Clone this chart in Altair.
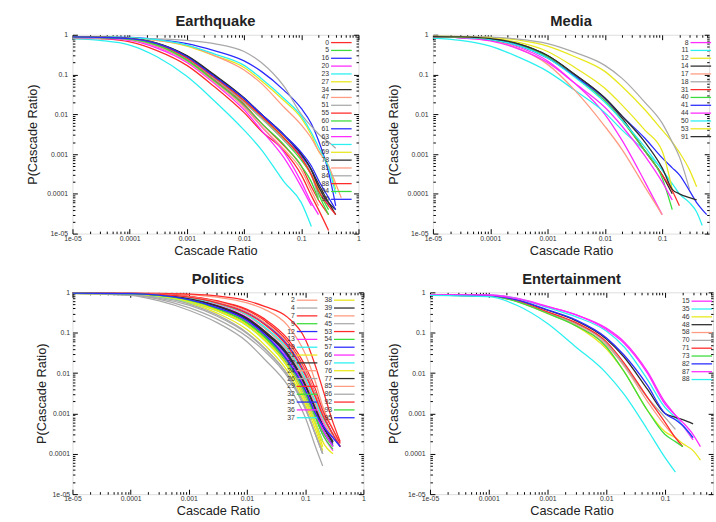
import altair as alt
import pandas as pd

FONT = "Liberation Sans"
CYCLE = ["#ff2b2b", "#3ddc3d", "#2b2bff", "#ff2bff", "#2bf0f0", "#e8e81e", "#2e2e2e", "#ff9b80", "#a9a9a9"]

MAJOR = [1e-05, 0.0001, 0.001, 0.01, 0.1, 1]
MINOR = [m * 10.0 ** e for e in range(-5, 0) for m in range(1, 10)] + [1.0]

# ---------------- Earthquake ----------------
EQ_X = [1e-5, 3e-5, 1e-4, 3e-4, 1e-3, 3e-3, 1e-2, 2e-2, 5e-2, 0.1, 0.15, 0.2, 0.3, 0.4, 0.5]
EQ_Y = {
    "0":  [0.85, 0.8, 0.66, 0.4, 0.17, 0.05, 0.011, 0.0038, 0.0012, 0.0003, 0.00009, 0.00004, 0.000012],
    "5":  [0.88, 0.86, 0.8, 0.58, 0.25, 0.08, 0.02, 0.008, 0.0022, 0.0007, 0.0003, 0.00012, 0.00004],
    "16": [0.9, 0.89, 0.86, 0.76, 0.6, 0.4, 0.22, 0.12, 0.04, 0.014, 0.0058, 0.0022, 0.00035, 0.00005],
    "20": [0.87, 0.84, 0.75, 0.5, 0.22, 0.07, 0.016, 0.005, 0.0011, 0.0002, 0.00006, 0.00003],
    "23": [0.8, 0.72, 0.55, 0.28, 0.09, 0.022, 0.004, 0.0013, 0.0002, 0.00006, 0.000015],
    "27": [0.9, 0.88, 0.84, 0.72, 0.52, 0.3, 0.15, 0.07, 0.022, 0.008, 0.003, 0.0012, 0.0005, 0.00013],
    "34": [0.88, 0.86, 0.82, 0.62, 0.3, 0.1, 0.026, 0.01, 0.003, 0.001, 0.0004, 0.00018, 0.00006, 0.00003],
    "47": [0.9, 0.88, 0.82, 0.72, 0.55, 0.3, 0.13, 0.06, 0.015, 0.0054, 0.0025, 0.0012, 0.0005, 0.00018, 0.00008],
    "51": [0.8, 0.8, 0.8, 0.79, 0.72, 0.6, 0.38, 0.2, 0.05, 0.01, 0.005, 0.0032, 0.002, 0.0014],
    "55": [0.88, 0.85, 0.78, 0.55, 0.24, 0.075, 0.018, 0.006, 0.0016, 0.0005, 0.00015, 0.00007, 0.00003],
    "60": [0.9, 0.88, 0.82, 0.6, 0.27, 0.09, 0.022, 0.009, 0.0025, 0.0008, 0.0003, 0.0001, 0.00003],
    "61": [0.88, 0.86, 0.8, 0.6, 0.28, 0.09, 0.025, 0.01, 0.003, 0.0009, 0.0004, 0.00015, 0.00005],
    "63": [0.86, 0.82, 0.72, 0.46, 0.2, 0.06, 0.013, 0.004, 0.0008, 0.00015, 0.00005],
    "65": [0.9, 0.89, 0.85, 0.75, 0.55, 0.33, 0.17, 0.08, 0.025, 0.009, 0.0035, 0.0015, 0.00045, 0.0001],
    "69": [0.89, 0.87, 0.81, 0.6, 0.27, 0.085, 0.022, 0.009, 0.0025, 0.0008, 0.0003, 0.00014, 0.00006],
    "78": [0.88, 0.86, 0.81, 0.61, 0.29, 0.095, 0.025, 0.01, 0.003, 0.001, 0.0004, 0.00015, 0.00006, 0.00004],
    "81": [0.87, 0.84, 0.76, 0.52, 0.22, 0.065, 0.015, 0.005, 0.0013, 0.0004, 0.00012, 0.00005],
    "84": [0.86, 0.84, 0.77, 0.55, 0.25, 0.08, 0.02, 0.008, 0.0022, 0.0008, 0.0003, 0.00008],
    "88": [0.88, 0.86, 0.8, 0.58, 0.26, 0.085, 0.022, 0.009, 0.0025, 0.0008, 0.0003, 0.00012, 0.00005, 0.00003],
    "94": [0.88, 0.85, 0.78, 0.55, 0.23, 0.07, 0.017, 0.006, 0.0017, 0.0005, 0.0002, 0.00007],
    "96": [0.88, 0.86, 0.8, 0.6, 0.28, 0.09, 0.025, 0.01, 0.003, 0.0011, 0.0005, 0.00022, 0.00008, 0.00004],
}

# ---------------- Media ----------------
ME_X = [1e-5, 3e-5, 1e-4, 3e-4, 1e-3, 3e-3, 1e-2, 2e-2, 5e-2, 0.1, 0.15, 0.2, 0.3, 0.4, 0.5, 0.6]
ME_Y = {
    "8":  [0.9, 0.86, 0.73, 0.5, 0.22, 0.06, 0.01, 0.0022, 0.0002, 0.00003],
    "11": [0.82, 0.72, 0.52, 0.28, 0.12, 0.04, 0.011, 0.004, 0.0012, 0.0004, 0.00017],
    "12": [0.92, 0.9, 0.86, 0.74, 0.52, 0.28, 0.12, 0.05, 0.013, 0.004, 0.002, 0.0011, 0.0004, 0.00015],
    "14": [0.9, 0.88, 0.8, 0.6, 0.3, 0.1, 0.025, 0.008, 0.0012, 0.0003, 0.0001],
    "17": [0.88, 0.84, 0.72, 0.46, 0.18, 0.04, 0.005, 0.0013, 0.00015, 0.00003],
    "18": [0.92, 0.9, 0.87, 0.78, 0.6, 0.36, 0.17, 0.08, 0.02, 0.006, 0.002, 0.00085, 0.00013],
    "31": [0.9, 0.86, 0.76, 0.55, 0.27, 0.09, 0.022, 0.007, 0.0012, 0.0003, 0.00012, 0.00005],
    "40": [0.9, 0.87, 0.79, 0.58, 0.28, 0.09, 0.022, 0.007, 0.0012, 0.00025, 0.00004],
    "41": [0.88, 0.85, 0.76, 0.55, 0.26, 0.09, 0.025, 0.009, 0.0025, 0.0008, 0.00045, 0.0003, 0.00012, 0.00006, 0.00004, 0.00003],
    "44": [0.88, 0.84, 0.7, 0.45, 0.2, 0.06, 0.015, 0.005, 0.0009, 0.0002, 0.00007],
    "50": [0.9, 0.86, 0.76, 0.54, 0.26, 0.085, 0.02, 0.007, 0.0015, 0.0004, 0.00018, 0.0001, 0.00006, 0.000035, 0.000016],
    "53": [0.9, 0.88, 0.82, 0.65, 0.38, 0.15, 0.045, 0.017, 0.004, 0.0012, 0.00013],
    "91": [0.9, 0.88, 0.8, 0.6, 0.3, 0.1, 0.026, 0.009, 0.002, 0.00045, 0.00013, 0.0001, 0.00008, 0.00007],
}

# ---------------- Politics ----------------
PO_X = [1e-5, 1e-4, 3e-4, 1e-3, 3e-3, 1e-2, 2e-2, 5e-2, 0.1, 0.15, 0.2, 0.3, 0.4, 0.5]
PO_Y = {
    "2":  [0.97, 0.96, 0.94, 0.88, 0.76, 0.55, 0.38, 0.15, 0.03, 0.006, 0.0015, 0.0004, 0.00015],
    "4":  [0.95, 0.86, 0.68, 0.42, 0.22, 0.08, 0.035, 0.008, 0.0013, 0.0003, 0.0001],
    "7":  [0.97, 0.96, 0.95, 0.91, 0.82, 0.62, 0.45, 0.24, 0.07, 0.015, 0.004, 0.0006, 0.0002],
    "9":  [0.96, 0.93, 0.86, 0.7, 0.47, 0.23, 0.11, 0.03, 0.005, 0.0012, 0.0005, 0.0002],
    "12": [0.96, 0.93, 0.86, 0.68, 0.44, 0.21, 0.1, 0.025, 0.004, 0.001, 0.0004, 0.00016],
    "13": [0.96, 0.92, 0.84, 0.64, 0.4, 0.18, 0.08, 0.018, 0.003, 0.0008, 0.0003, 0.00012],
    "19": [0.96, 0.94, 0.88, 0.74, 0.52, 0.27, 0.13, 0.035, 0.006, 0.0015, 0.0006, 0.0002],
    "21": [0.95, 0.9, 0.78, 0.55, 0.31, 0.12, 0.05, 0.011, 0.0017, 0.0004, 0.00012],
    "22": [0.96, 0.93, 0.86, 0.69, 0.46, 0.22, 0.1, 0.028, 0.005, 0.0013, 0.0005, 0.00018],
    "24": [0.96, 0.94, 0.89, 0.77, 0.57, 0.32, 0.17, 0.05, 0.01, 0.0025, 0.0009, 0.0003],
    "26": [0.95, 0.89, 0.76, 0.52, 0.28, 0.1, 0.042, 0.009, 0.0014, 0.0003, 0.0001],
    "29": [0.96, 0.94, 0.9, 0.79, 0.6, 0.36, 0.2, 0.06, 0.012, 0.003, 0.001, 0.0003],
    "32": [0.96, 0.92, 0.83, 0.62, 0.38, 0.17, 0.075, 0.016, 0.0025, 0.0006, 0.0002],
    "35": [0.96, 0.93, 0.85, 0.67, 0.43, 0.2, 0.09, 0.022, 0.0038, 0.001, 0.0004, 0.00016],
    "36": [0.96, 0.93, 0.87, 0.71, 0.48, 0.24, 0.11, 0.03, 0.0055, 0.0014, 0.0006, 0.0002],
    "37": [0.95, 0.91, 0.8, 0.58, 0.35, 0.15, 0.065, 0.014, 0.0022, 0.0006, 0.0002],
    "38": [0.95, 0.92, 0.83, 0.62, 0.37, 0.16, 0.07, 0.015, 0.0024, 0.0006, 0.0002, 0.0001],
    "39": [0.96, 0.93, 0.86, 0.7, 0.47, 0.23, 0.11, 0.03, 0.0052, 0.0013, 0.0005, 0.0002],
    "42": [0.96, 0.94, 0.88, 0.73, 0.52, 0.27, 0.13, 0.036, 0.0065, 0.0017, 0.0007, 0.00025],
    "45": [0.95, 0.84, 0.62, 0.36, 0.18, 0.06, 0.022, 0.005, 0.0008, 0.00015, 0.00005],
    "53": [0.97, 0.95, 0.91, 0.8, 0.62, 0.38, 0.22, 0.07, 0.015, 0.004, 0.0012, 0.0004, 0.00018],
    "54": [0.96, 0.93, 0.85, 0.66, 0.42, 0.19, 0.085, 0.02, 0.0035, 0.0009, 0.00035, 0.00015],
    "57": [0.96, 0.94, 0.89, 0.77, 0.56, 0.32, 0.17, 0.05, 0.01, 0.003, 0.001, 0.0003, 0.00015],
    "66": [0.96, 0.93, 0.85, 0.66, 0.42, 0.19, 0.09, 0.022, 0.004, 0.001, 0.0004, 0.00015],
    "67": [0.96, 0.94, 0.88, 0.74, 0.53, 0.28, 0.14, 0.04, 0.0075, 0.002, 0.0008, 0.0003],
    "76": [0.95, 0.91, 0.81, 0.59, 0.35, 0.15, 0.065, 0.014, 0.002, 0.0005, 0.00015],
    "77": [0.96, 0.93, 0.86, 0.69, 0.46, 0.22, 0.105, 0.028, 0.005, 0.0013, 0.0005, 0.0002],
    "85": [0.96, 0.94, 0.9, 0.78, 0.58, 0.33, 0.18, 0.055, 0.011, 0.003, 0.001, 0.0003],
    "86": [0.95, 0.88, 0.72, 0.48, 0.26, 0.095, 0.04, 0.009, 0.0014, 0.0003, 0.0001],
    "92": [0.96, 0.94, 0.89, 0.76, 0.55, 0.3, 0.16, 0.045, 0.009, 0.0025, 0.0009, 0.0003, 0.00015],
    "93": [0.96, 0.92, 0.84, 0.64, 0.4, 0.18, 0.08, 0.019, 0.0032, 0.0008, 0.0003, 0.00013],
    "95": [0.96, 0.93, 0.85, 0.66, 0.42, 0.2, 0.09, 0.02, 0.0038, 0.001, 0.0005, 0.00025, 0.00015],
}
PO_LEFT = ["2", "4", "7", "9", "12", "13", "19", "21", "22", "24", "26", "29", "32", "35", "36", "37"]
PO_RIGHT = ["38", "39", "42", "45", "53", "54", "57", "66", "67", "76", "77", "85", "86", "92", "93", "95"]

# ---------------- Entertainment ----------------
EN_X = [1e-5, 1e-4, 3e-4, 1e-3, 3e-3, 1e-2, 2e-2, 5e-2, 0.1, 0.15, 0.2, 0.3, 0.4]
EN_Y = {
    "15": [0.88, 0.86, 0.72, 0.45, 0.28, 0.13, 0.06, 0.011, 0.0019, 0.0009, 0.0005, 0.00022],
    "35": [0.87, 0.85, 0.7, 0.42, 0.25, 0.11, 0.045, 0.007, 0.0014, 0.0008, 0.0005, 0.00025],
    "46": [0.86, 0.82, 0.6, 0.3, 0.15, 0.04, 0.011, 0.0012, 0.00035, 0.00025, 0.00018, 0.00012, 0.00007],
    "48": [0.86, 0.83, 0.64, 0.36, 0.2, 0.07, 0.025, 0.004, 0.001, 0.0008, 0.0007, 0.00055],
    "58": [0.86, 0.82, 0.6, 0.31, 0.16, 0.05, 0.015, 0.002, 0.0005, 0.00025, 0.00015],
    "70": [0.86, 0.82, 0.61, 0.32, 0.17, 0.055, 0.016, 0.0025, 0.0008, 0.0004],
    "71": [0.86, 0.83, 0.62, 0.33, 0.18, 0.06, 0.018, 0.0025, 0.0006, 0.00025, 0.00015],
    "73": [0.86, 0.82, 0.59, 0.3, 0.15, 0.045, 0.011, 0.0012, 0.0003, 0.0002, 0.00015],
    "82": [0.86, 0.83, 0.65, 0.37, 0.21, 0.075, 0.028, 0.005, 0.001, 0.0007, 0.0005, 0.00025],
    "87": [0.88, 0.86, 0.7, 0.44, 0.28, 0.12, 0.055, 0.01, 0.0017, 0.0009, 0.0006, 0.0003, 0.00015],
    "88": [0.84, 0.78, 0.48, 0.17, 0.045, 0.01, 0.003, 0.0004, 0.00008, 0.000035],
}

LAB_EXPR = "datum.value < 0.00005 ? '1e-05' : format(datum.value, '~g')"
TICK_SIZE = {
    "condition": {
        "test": "abs(log(datum.value)/LN10 - round(log(datum.value)/LN10)) < 0.01",
        "value": 5,
    },
    "value": 2.5,
}


def long_df(xs, ys, labels):
    rows = []
    for lab in labels:
        for i, v in enumerate(ys[lab]):
            rows.append({"series": lab, "x": xs[i], "y": v, "i": i})
    return pd.DataFrame(rows)


def make_legend(lx, ly):
    return alt.Legend(
        title=None, orient="none", legendX=lx, legendY=ly, direction="vertical",
        symbolType="M-3,0H3", symbolSize=49, symbolStrokeWidth=1.3,
        rowPadding=0, labelFontSize=7, labelFont=FONT, symbolLimit=0,
        labelColor="#333333", labelAlign="right", labelOffset={"expr": "-17"}, padding=0,
        labelLimit=0,
    )


def tick_axis(orient, off, vals):
    return alt.Axis(orient=orient, offset=off, values=vals, labels=False, domain=False,
                    grid=False, title=None, tickSize=TICK_SIZE, tickColor="black", tickWidth=1)


def panel(title, xs, ys, groups, w, h, xmax, lpad, tpad):
    all_labels = list(ys.keys())
    df_all = long_df(xs, ys, all_labels)
    xmaj = [v for v in MAJOR if v <= xmax * 1.0001]
    xmin = [v for v in MINOR if v <= xmax * 1.0001]
    sx = alt.Scale(type="log", domain=[1e-5, xmax], nice=False)
    sy = alt.Scale(type="log", domain=[1e-5, 1], nice=False)
    xaxis = alt.Axis(
        orient="bottom", values=xmaj, labelExpr=LAB_EXPR, ticks=False, domain=False,
        grid=False, labelFontSize=7, labelFont=FONT, labelPadding=1, labelColor="#333333",
        title="Cascade Ratio", titleFontSize=13, titleFont=FONT, titleFontWeight="normal",
        titleColor="#222222", titlePadding=3, labelFlush=False)
    yaxis = alt.Axis(
        orient="left", values=MAJOR, labelExpr=LAB_EXPR, ticks=False, domain=False,
        grid=False, labelFontSize=7, labelFont=FONT, labelPadding=lpad, labelColor="#333333",
        title="P(Cascade Ratio)", titleFontSize=13, titleFont=FONT, titleFontWeight="normal",
        titleColor="#222222", titlePadding=tpad, labelFlush=False)
    layers = []
    for k, (labels, start, lx, ly) in enumerate(groups):
        df = long_df(xs, ys, labels)
        colors = [CYCLE[(start + j) % 9] for j in range(len(labels))]
        layers.append(
            alt.Chart(df).mark_line(strokeWidth=1.3, interpolate="monotone", clip=True).encode(
                x=alt.X("x:Q", scale=sx, axis=xaxis if k == 0 else None),
                y=alt.Y("y:Q", scale=sy, axis=yaxis if k == 0 else None),
                color=alt.Color("series:N", scale=alt.Scale(domain=labels, range=colors),
                                legend=make_legend(lx, ly)),
                order="i:Q",
            )
        )
    t1 = alt.Chart(df_all).mark_line(opacity=0, clip=True).encode(
        x=alt.X("x:Q", scale=sx, axis=tick_axis("top", -h, xmin)),
        y=alt.Y("y:Q", scale=sy, axis=tick_axis("right", -w, MINOR)),
        detail="series:N",
    )
    t2 = alt.Chart(df_all).mark_line(opacity=0, clip=True).encode(
        x=alt.X("x:Q", scale=sx, axis=tick_axis("bottom", -h, xmin)),
        y=alt.Y("y:Q", scale=sy, axis=tick_axis("left", -w, MINOR)),
        detail="series:N",
    )
    return alt.layer(*layers, t1, t2).resolve_axis(x="independent", y="independent").resolve_scale(
        color="independent"
    ).properties(
        width=w, height=h,
        title=alt.TitleParams(title, fontSize=15, font=FONT, fontWeight="bold", offset=2,
                              color="#222222", anchor="middle", frame="group"),
    )


eq = panel("Earthquake", EQ_X, EQ_Y, [(list(EQ_Y.keys()), 0, 270, 3.5)], 292, 203, 1.0, 5, 7)
me = panel("Media", ME_X, ME_Y, [(list(ME_Y.keys()), 3, 269, 3.5)], 282, 203, 0.661, 5, 7)
po = panel("Politics", PO_X, PO_Y, [(PO_LEFT, 7, 235, 3.5), (PO_RIGHT, 5, 273, 3.5)],
           297, 206, 1.0, 3, 0)
en = panel("Entertainment", EN_X, EN_Y, [(list(EN_Y.keys()), 3, 273, 4.5)], 289, 206, 0.656, 5, 4)

chart = alt.concat(eq, me, po, en, columns=2, align="none", spacing={"row": 13, "column": 21}).resolve_scale(
    color="independent"
).properties(
    padding={"left": 27, "top": 8, "right": 0, "bottom": 0}
).configure_view(stroke="black", strokeWidth=1).configure(background="white")

chart.save("out.html", embed_options={"renderer": "svg", "actions": False})
